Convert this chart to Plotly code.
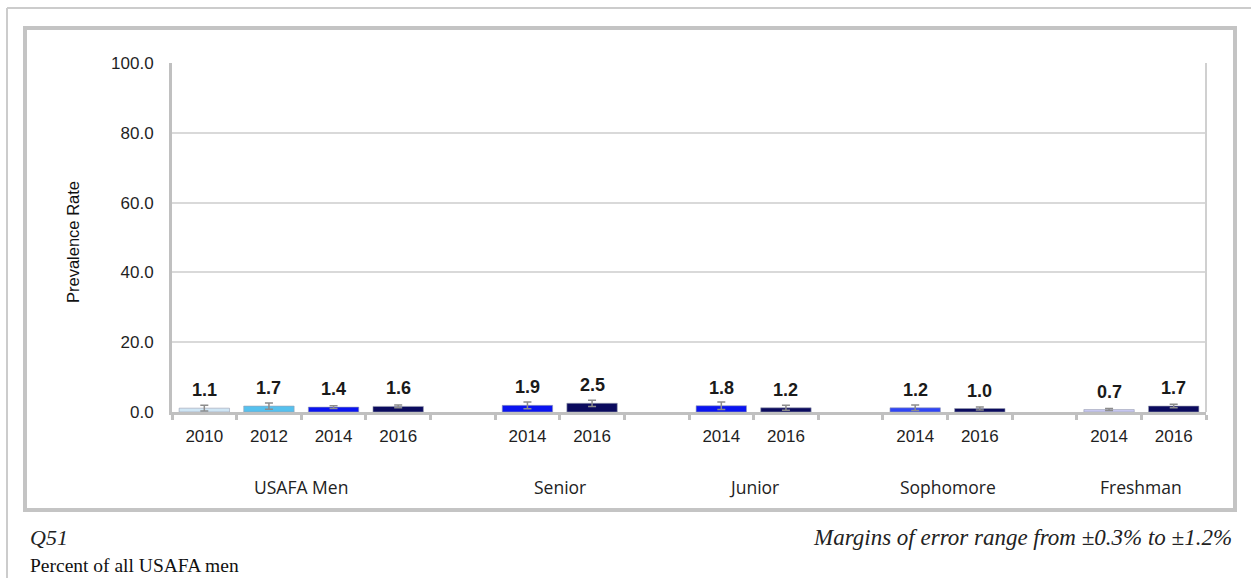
import plotly.graph_objects as go

# ---- data ----
groups = ["USAFA Men", "Senior", "Junior", "Sophomore", "Freshman"]
group_years = [["2010", "2012", "2014", "2016"],
               ["2014", "2016"],
               ["2014", "2016"],
               ["2014", "2016"],
               ["2014", "2016"]]
values = [[1.1, 1.7, 1.4, 1.6],
          [1.9, 2.5],
          [1.8, 1.2],
          [1.2, 1.0],
          [0.7, 1.7]]
errors = [[0.8, 0.9, 0.4, 0.4],
          [1.0, 0.9],
          [1.1, 0.7],
          [0.8, 0.4],
          [0.3, 0.5]]
y_ticks = [0, 20, 40, 60, 80, 100]

year_colors = {"2010": "#cfe6f5", "2012": "#56c1ee", "2014": "#0a14f0", "2016": "#0b0b5e"}
# per-bar tint overrides as seen in the picture: (group, year) -> colour
color_overrides = {("Sophomore", "2014"): "#2f45f5", ("Freshman", "2014"): "#c9c9f2"}

# ---- layout geometry ----
W, H = 1251, 578
L, R, T, B = 172, 45, 63, 166
PW, PH = W - L - R, H - T - B


def px(x):
    return (x - L) / PW


def py(y):
    return (H - B - y) / PH


# positions: slots with one blank slot between groups
xs, ys, es, cols, labels = [], [], [], [], []
group_centers = []
pos = 0
for gi, yrs in enumerate(group_years):
    if gi > 0:
        pos += 1
    start = pos
    for yi, yr in enumerate(yrs):
        xs.append(pos)
        ys.append(values[gi][yi])
        es.append(errors[gi][yi])
        cols.append(color_overrides.get((groups[gi], yr), year_colors[yr]))
        labels.append(yr)
        pos += 1
    group_centers.append((start + pos - 1) / 2)
n_slots = pos

fig = go.Figure()
fig.add_trace(go.Bar(
    x=xs, y=ys, width=0.78,
    marker=dict(color=cols, line=dict(color="#9aa0b0", width=0.6)),
    error_y=dict(type="data", array=es, visible=True, color="#8c8c8c",
                 thickness=1.5, width=4),
    hoverinfo="skip",
))

annotations = []
for x, y in zip(xs, ys):
    annotations.append(dict(x=x, y=y, xref="x", yref="y", text="<b>%.1f</b>" % y,
                            showarrow=False, yanchor="bottom", yshift=6,
                            font=dict(family="Arial", size=18, color="#1a1a1a")))
for g, c in zip(groups, group_centers):
    annotations.append(dict(x=c, y=py(487), xref="x", yref="paper", text=g,
                            showarrow=False, yanchor="middle",
                            font=dict(family="Open Sans, Calibri, Arial", size=17.5, color="#222")))
annotations += [
    dict(x=px(62), y=py(242), xref="paper", yref="paper", text="Prevalence Rate",
         textangle=-90, showarrow=False, yanchor="middle",
         font=dict(family="Arial", size=16.5, color="#111")),
    dict(x=px(28), y=py(537), xref="paper", yref="paper", text="<i>Q51</i>",
         xanchor="left", yanchor="middle", showarrow=False,
         font=dict(family="Liberation Serif", size=22, color="#222")),
    dict(x=px(1234), y=py(537), xref="paper", yref="paper",
         text="<i>Margins of error range from ±0.3% to ±1.2%</i>",
         xanchor="right", yanchor="middle", showarrow=False,
         font=dict(family="Liberation Serif", size=23, color="#222")),
    dict(x=px(28), y=py(565), xref="paper", yref="paper", text="Percent of all USAFA men",
         xanchor="left", yanchor="middle", showarrow=False,
         font=dict(family="Liberation Serif", size=19.5, color="#111")),
]

shapes = [
    # page border lines
    dict(type="line", xref="paper", yref="paper", x0=px(7), x1=px(1251), y0=py(8), y1=py(8),
         line=dict(color="#cccccc", width=2)),
    dict(type="line", xref="paper", yref="paper", x0=px(7), x1=px(7), y0=py(8), y1=py(578),
         line=dict(color="#cccccc", width=2)),
    # chart border
    dict(type="rect", xref="paper", yref="paper", x0=px(25), x1=px(1235), y0=py(28), y1=py(510),
         line=dict(color="#c4c4c4", width=4)),
    # plot area right edge
    dict(type="line", xref="paper", yref="paper", x0=1, x1=1, y0=0, y1=1,
         line=dict(color="#d0d0d0", width=2)),
]

fig.update_layout(
    width=W, height=H,
    margin=dict(l=L, r=R, t=T, b=B),
    paper_bgcolor="white", plot_bgcolor="white",
    showlegend=False,
    annotations=annotations, shapes=shapes,
    xaxis=dict(range=[-0.5, n_slots - 0.5], tickmode="array", tickvals=xs, ticktext=labels,
               ticks="", showgrid=False, zeroline=False,
               showline=True, linecolor="#c0c0c0", linewidth=3,
               tickfont=dict(family="Arial", size=17, color="#1f1f1f"),
               ticklabelstandoff=7,
               minor=dict(tickvals=[i - 0.5 for i in range(n_slots + 1)], ticks="outside",
                          ticklen=5, tickwidth=3, tickcolor="#c0c0c0", showgrid=False)),
    yaxis=dict(range=[0, 100], tickvals=y_ticks, tickformat=".1f",
               showgrid=True, gridcolor="#d9d9d9", gridwidth=1.5, zeroline=False,
               showline=True, linecolor="#c0c0c0", linewidth=3, ticks="",
               ticklabelstandoff=12,
               tickfont=dict(family="Arial", size=17, color="#1f1f1f")),
)

fig.write_html("out.html", config={"displayModeBar": False},
               post_script="document.body.style.margin='0';document.body.style.overflow='hidden';")
